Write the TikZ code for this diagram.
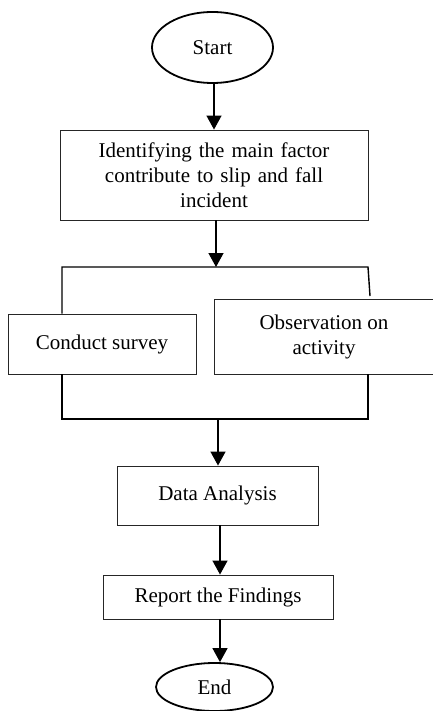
\documentclass[tikz,border=0pt]{standalone}
\usepackage{fontspec}
\setmainfont{Liberation Serif}
\usetikzlibrary{arrows.meta,shapes.geometric}
\tikzset{
  box/.style={draw=black!85,line width=0.9pt,rectangle,align=center,inner sep=0pt},
  term/.style={draw,line width=1.8pt,ellipse,inner sep=0pt},
  link/.style={line width=1.4pt},
  flow/.style={link,-{Triangle[width=15pt,length=14pt]}}
}
\begin{document}
\begin{tikzpicture}[x=1pt,y=-1pt,font=\fontsize{21}{25}\selectfont]
\useasboundingbox (0,0) rectangle (433,711);
\node[term,minimum width=121pt,minimum height=71pt] (start) at (212.5,47.5) {Start};
\node[box,minimum width=308pt,minimum height=90pt,text width=290pt] (ident) at (214,175)
  {Identifying the main factor\\contribute to slip and fall\\incident};
\node[box,minimum width=188pt,minimum height=60pt] (survey) at (102,344) {Conduct survey};
\node[box,minimum width=220pt,minimum height=75pt] (obs) at (324,336.5) {Observation on\\activity};
\node[box,minimum width=201pt,minimum height=59pt] (data) at (217.5,495.5) {Data Analysis};
\node[box,minimum width=230pt,minimum height=44pt] (report) at (218,597) {Report the Findings};
\node[term,minimum width=117pt,minimum height=48pt] (end) at (214.5,687) {End};
% branch and merge points
\coordinate (split) at (216,267);
\coordinate (lt) at (62,267);
\coordinate (rt) at (368,267);
\coordinate (rtend) at (370,296);
\coordinate (lb) at (62,419);
\coordinate (rb) at (368,419);
\coordinate (merge) at (218,419);
\draw[flow] (start.south -| 214,0) -- (ident.north -| 214,0);
\draw[flow] (ident.south -| split) -- (split);
\draw[link] (survey.north -| lt) -- (lt) -- (rt) -- (rtend);
\draw[link] (survey.south -| lb) -- (lb) -- (rb) -- (obs.south -| rb);
\draw[flow] (merge) -- (data.north -| merge);
\draw[flow] (data.south -| 220,0) -- (report.north -| 220,0);
\draw[flow] (report.south -| 220,0) -- (end.north -| 220,0);
\end{tikzpicture}
\end{document}
